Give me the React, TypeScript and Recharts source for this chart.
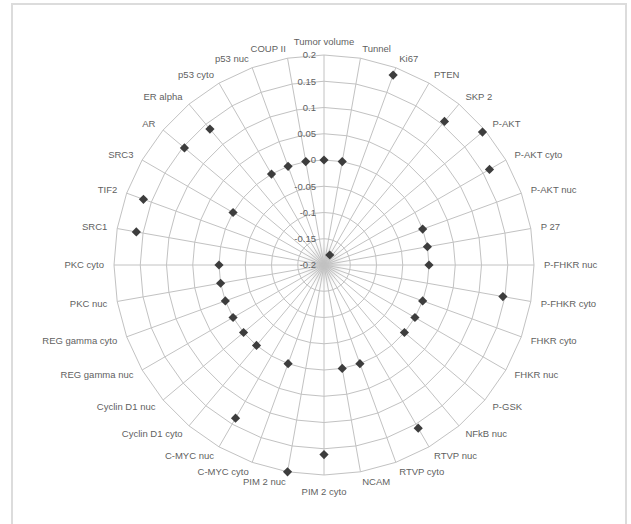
import React from "react";
import {
  RadarChart,
  PolarGrid,
  PolarAngleAxis,
  PolarRadiusAxis,
  Radar,
} from "recharts";

// Markers, clockwise from the top
const markers = [
  "Tumor volume",
  "Tunnel",
  "Ki67",
  "PTEN",
  "SKP 2",
  "P-AKT",
  "P-AKT cyto",
  "P-AKT nuc",
  "P 27",
  "P-FHKR nuc",
  "P-FHKR cyto",
  "FHKR cyto",
  "FHKR nuc",
  "P-GSK",
  "NFkB nuc",
  "RTVP nuc",
  "RTVP cyto",
  "NCAM",
  "PIM 2 cyto",
  "PIM 2 nuc",
  "C-MYC cyto",
  "C-MYC nuc",
  "Cyclin D1 cyto",
  "Cyclin D1 nuc",
  "REG gamma nuc",
  "REG gamma cyto",
  "PKC nuc",
  "PKC cyto",
  "SRC1",
  "TIF2",
  "SRC3",
  "AR",
  "ER alpha",
  "p53 cyto",
  "p53 nuc",
  "COUP II",
];

// Correlation per marker (null = no value plotted)
const scores: (number | null)[] = [
  0, 0, 0.185, -0.178, 0.157, 0.194, 0.164, 0, 0, 0,
  0.146, 0, 0, 0, null, 0.159, 0, 0, 0.161, 0.2,
  0, 0.137, 0, 0, 0, 0, 0, 0, 0.163, 0.166,
  0, 0.147, 0.138, 0, 0, 0,
];

const radiusTicks = [-0.2, -0.15, -0.1, -0.05, 0, 0.05, 0.1, 0.15, 0.2];
const radiusTickLabels = ["-0.2", "-0.15", "-0.1", "-0.05", "0", "0.05", "0.1", "0.15", "0.2"];

const data = markers.map((name, i) => ({ name, value: scores[i] }));

const W = 631;
const H = 524;
const CX = 324;
const CY = 265;
const R = 210;

const FONT = "'Liberation Sans', Arial, sans-serif";
const TEXT = "#5f5f5f";
const GRID = "#c2c2c2";

const AngleTick = (props: any) => {
  const { x, y, payload } = props;
  const dx = x - CX;
  const dy = y - CY;
  let anchor: "start" | "end" | "middle" = "middle";
  if (dx > 2) anchor = "start";
  else if (dx < -2) anchor = "end";
  let shift = "0.35em";
  if (anchor === "middle") shift = dy < 0 ? "0" : "1em";
  return (
    <text
      x={x}
      y={y}
      dy={shift}
      textAnchor={anchor}
      fill={TEXT}
      fontSize={9.5}
      fontFamily={FONT}
    >
      {payload.value}
    </text>
  );
};

const RadiusTick = (props: any) => {
  const { x, y, payload } = props;
  const idx = radiusTicks.indexOf(payload.value);
  const label = idx >= 0 ? radiusTickLabels[idx] : String(payload.value);
  return (
    <text
      x={x - 8}
      y={y}
      dy="0.35em"
      textAnchor="end"
      fill={TEXT}
      fontSize={9.5}
      fontFamily={FONT}
    >
      {label}
    </text>
  );
};

const Diamond = (props: any) => {
  const { cx, cy, payload, index } = props;
  const raw = payload && payload.payload ? payload.payload : payload;
  if (!raw || raw.value == null || !Number.isFinite(cx) || !Number.isFinite(cy)) {
    return <g key={`dot-${index}`} />;
  }
  const s = 4.6;
  return (
    <path
      key={`dot-${index}`}
      d={`M${cx},${cy - s}L${cx + s},${cy}L${cx},${cy + s}L${cx - s},${cy}Z`}
      fill="#3d3d3d"
    />
  );
};

export default function App() {
  return (
    <div
      style={{
        position: "absolute",
        left: 0,
        top: 0,
        width: W,
        height: H,
        overflow: "hidden",
        background: "#ffffff",
      }}
    >
      <div
        style={{
          position: "absolute",
          left: 11,
          top: 3,
          width: 616,
          height: 540,
          border: "2px solid #dcdcdc",
          boxSizing: "border-box",
        }}
      />
      {/* soft shading where the spokes converge */}
      <div
        style={{
          position: "absolute",
          left: CX - 26,
          top: CY - 26,
          width: 52,
          height: 52,
          borderRadius: "50%",
          background:
            "radial-gradient(circle, rgba(140,140,140,0.55) 0px, rgba(185,185,185,0.35) 10px, rgba(215,215,215,0.15) 18px, rgba(255,255,255,0) 26px)",
        }}
      />
      <div style={{ position: "absolute", left: 0, top: 0 }}>
        <RadarChart
          width={W}
          height={H}
          data={data}
          cx={CX}
          cy={CY}
          outerRadius={R}
          margin={{ top: 0, right: 0, bottom: 0, left: 0 }}
        >
          <PolarGrid stroke={GRID} strokeWidth={1} />
          <PolarAngleAxis
            dataKey="name"
            tick={AngleTick}
            tickLine={false}
            tickSize={10}
            axisLine={false}
          />
          <PolarRadiusAxis
            angle={90}
            type="number"
            domain={[-0.2, 0.2]}
            ticks={radiusTicks}
            tickCount={9}
            axisLine={false}
            tickLine={false}
            tick={RadiusTick}
          />
          <Radar
            dataKey="value"
            stroke="none"
            fill="none"
            fillOpacity={0}
            dot={Diamond}
            activeDot={false}
            isAnimationActive={false}
          />
        </RadarChart>
      </div>
    </div>
  );
}
